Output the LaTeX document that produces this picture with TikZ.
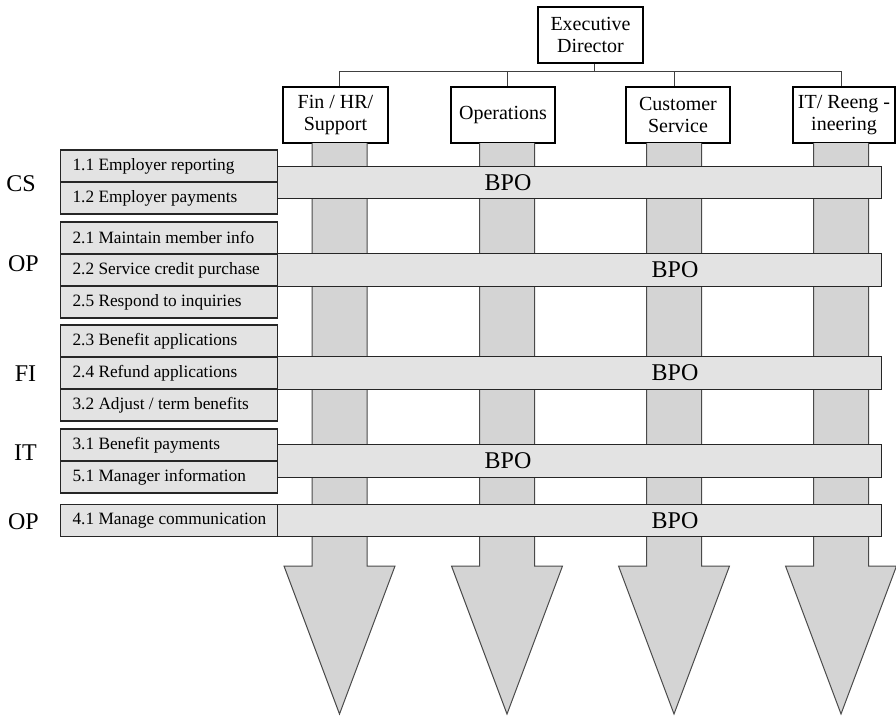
\documentclass[tikz,border=0pt]{standalone}
\usepackage{fontspec}
\setmainfont{Liberation Serif}
\definecolor{barfill}{HTML}{E3E3E3}
\definecolor{shaftfill}{HTML}{D4D4D4}
\definecolor{shaftline}{HTML}{4A4A4A}
\newcommand{\rowtext}[1]{\makebox[193pt][l]{#1}}
\begin{document}
\begin{tikzpicture}[x=1pt,y=-1pt,
  orgbox/.style={draw=black,line width=1.1pt,fill=white,inner sep=0pt,align=center,
    font=\fontsize{20}{22}\selectfont},
  rowbox/.style={draw=black!85,line width=1.1pt,fill=barfill,anchor=west,
    minimum width=217pt,minimum height=32pt,inner xsep=12pt,inner ysep=0pt,
    font=\fontsize{17.3}{20}\selectfont},
  barbox/.style={draw=black!85,line width=1.1pt,fill=barfill,anchor=west,
    minimum width=604pt,minimum height=32.5pt,inner sep=0pt},
  bpo/.style={inner sep=0pt,font=\fontsize{24}{26}\selectfont},
  grp/.style={inner sep=0pt,font=\fontsize{24}{26}\selectfont},
  conn/.style={draw=black!75,line width=1pt},
  bigarrow/.style={fill=shaftfill,draw=shaftline,line width=1pt,line join=miter}
]
\useasboundingbox (0,0) rectangle (896,716);

% org chart
\node[orgbox,minimum width=105pt,minimum height=56pt] (ed) at (590.5,35) {Executive\\Director};
\node[orgbox,minimum width=105pt,minimum height=56pt] (fin) at (335.5,115) {Fin / HR/\\Support};
\node[orgbox,minimum width=104pt,minimum height=56pt] (ops) at (503,115) {Operations};
\node[orgbox,minimum width=104pt,minimum height=56pt] (cus) at (678,115) {Customer\\Service};
\node[orgbox,minimum width=102pt,minimum height=56pt] (its) at (844,115) {IT/ Reeng -\\ineering};

\coordinate (c1) at (339.5,71);
\coordinate (c2) at (507,71);
\coordinate (c3) at (674,71);
\coordinate (c4) at (841,71);
\coordinate (cm) at (594,71);

\draw[conn] (c1) -- (c4);
\draw[conn] (cm |- ed.south) -- (cm);
\draw[conn] (c1) -- (c1 |- fin.north);
\draw[conn] (c2) -- (c2 |- ops.north);
\draw[conn] (c3) -- (c3 |- cus.north);
\draw[conn] (c4) -- (c4 |- its.north);

% big arrows
\foreach \c in {339.5,507,674,841}{
  \draw[bigarrow] (\c-27.5,143) -- (\c-27.5,566) -- (\c-55.5,566) -- (\c,714)
    -- (\c+55.5,566) -- (\c+27.5,566) -- (\c+27.5,143);
}

% rows
\node[rowbox] (r11) at (60,166) {\rowtext{1.1 Employer reporting}};
\node[rowbox] (r12) at (60,198) {\rowtext{1.2 Employer payments}};
\node[rowbox] (r21) at (60,238) {\rowtext{2.1 Maintain member info}};
\node[rowbox] (r22) at (60,270) {\rowtext{2.2 Service credit purchase}};
\node[rowbox] (r25) at (60,302) {\rowtext{2.5 Respond to inquiries}};
\node[rowbox] (r23) at (60,341) {\rowtext{2.3 Benefit applications}};
\node[rowbox] (r24) at (60,373) {\rowtext{2.4 Refund applications}};
\node[rowbox] (r32) at (60,405) {\rowtext{3.2 Adjust / term benefits}};
\node[rowbox] (r31) at (60,445) {\rowtext{3.1 Benefit payments}};
\node[rowbox] (r51) at (60,477) {\rowtext{5.1 Manager information}};
\node[rowbox] (r41) at (60,520.5) {\rowtext{4.1 Manage communication}};

% BPO bars
\node[barbox] (b1) at (277,182.5) {};
\node[barbox] (b2) at (277,270) {};
\node[barbox] (b3) at (277,373) {};
\node[barbox] (b4) at (277,461) {};
\node[barbox] (b5) at (277,520.5) {};
\node[bpo] (t1) at (508,183) {BPO};
\node[bpo] (t2) at (675,270) {BPO};
\node[bpo] (t3) at (675,373) {BPO};
\node[bpo] (t4) at (508,461) {BPO};
\node[bpo] (t5) at (675,521) {BPO};

% group labels
\node[grp] (g1) at (21,184) {CS};
\node[grp] (g2) at (23.5,264) {OP};
\node[grp] (g3) at (25.5,374) {FI};
\node[grp] (g4) at (25.5,453) {IT};
\node[grp] (g5) at (23.5,522) {OP};
\end{tikzpicture}
\end{document}
